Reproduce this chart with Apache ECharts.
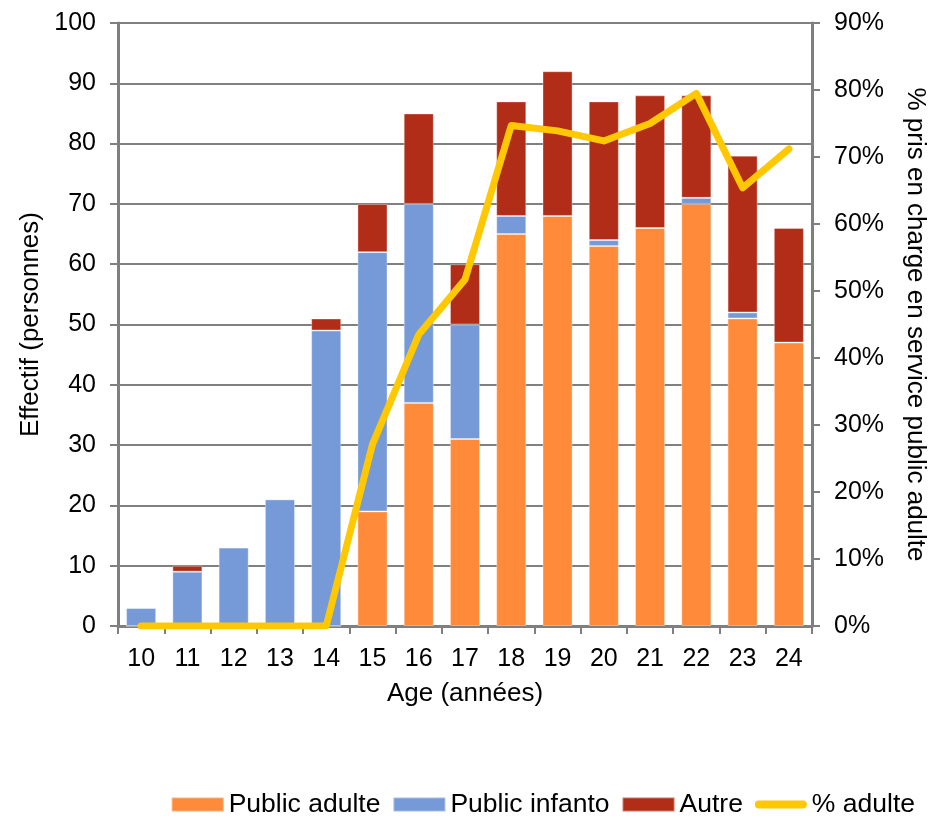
<!DOCTYPE html>
<html><head><meta charset="utf-8">
<script src="https://cdn.jsdelivr.net/npm/echarts@6/dist/echarts.min.js"></script>
<style>html,body{margin:0;padding:0;background:#fff}#c{width:930px;height:816px}</style>
</head><body><div id="c"></div>
<script>
const categories = ['10','11','12','13','14','15','16','17','18','19','20','21','22','23','24'];
const publicAdulte = [0,0,0,0,0,19,37,31,65,68,63,66,70,51,47];
const publicInfanto = [3,9,13,21,49,43,33,19,3,0,1,0,1,1,0];
const autre = [0,1,0,0,2,8,15,10,19,24,23,22,17,26,19];
const pctAdulte = [0,0,0,0,0,27.1,43.5,51.7,74.7,73.9,72.4,75.0,79.5,65.4,71.2];
const leftTicks = [0,100,10];
const rightTicks = [0,90,10];

const font = 'Liberation Sans, Arial, sans-serif';
const axisColor = '#7f7f7f';
const chart = echarts.init(document.getElementById('c'));
chart.setOption({
  animation:false,
  textStyle:{fontFamily:font},
  grid:{left:118,right:118,top:23,bottom:190,containLabel:false,outerBoundsMode:'none'},
  legend:{
    bottom:-7,right:10,itemWidth:52,itemHeight:14,itemGap:12,
    textStyle:{fontSize:26.5,color:'#000',fontFamily:font},
    data:[{name:'Public adulte',icon:'rect'},{name:'Public infanto',icon:'rect'},{name:'Autre',icon:'rect'},
      {name:'% adulte',icon:'path://M4,0 L48,0 A4,4 0 0 1 48,8 L4,8 A4,4 0 0 1 4,0 Z'}]
  },
  xAxis:{
    type:'category',data:categories,
    name:'Age (années)',nameLocation:'middle',nameGap:55,
    nameTextStyle:{fontSize:26,color:'#000'},
    axisLine:{lineStyle:{color:axisColor,width:3}},
    axisTick:{show:true,length:8,lineStyle:{color:axisColor,width:2},alignWithLabel:false},
    axisLabel:{fontSize:25,color:'#000',margin:21}
  },
  yAxis:[{
    type:'value',min:leftTicks[0],max:leftTicks[1],interval:leftTicks[2],
    name:'Effectif (personnes)',nameLocation:'middle',nameGap:62,
    nameTextStyle:{fontSize:26,color:'#000'},
    axisLine:{show:true,lineStyle:{color:axisColor,width:3}},
    axisTick:{show:true,length:8,lineStyle:{color:axisColor,width:2}},
    axisLabel:{fontSize:25,color:'#000',margin:22},
    splitLine:{lineStyle:{color:'#808080',width:2}}
  },{
    type:'value',min:rightTicks[0],max:rightTicks[1],interval:rightTicks[2],
    name:'% pris en charge en service public adulte',nameLocation:'middle',nameGap:90,nameRotate:-90,
    nameTextStyle:{fontSize:26,color:'#000'},
    axisLine:{show:true,lineStyle:{color:axisColor,width:3}},
    axisTick:{show:true,length:8,lineStyle:{color:axisColor,width:2}},
    axisLabel:{fontSize:25,color:'#000',margin:22,formatter:'{value}%'},
    splitLine:{show:false}
  }],
  series:[
    {name:'Public adulte',type:'bar',stack:'s',data:publicAdulte,barWidth:'65%',
     itemStyle:{color:'#FF8A3A',borderColor:'rgba(255,255,255,0.35)',borderWidth:1}},
    {name:'Public infanto',type:'bar',stack:'s',data:publicInfanto,
     itemStyle:{color:'#769AD7',borderColor:'rgba(255,255,255,0.35)',borderWidth:1}},
    {name:'Autre',type:'bar',stack:'s',data:autre,
     itemStyle:{color:'#B22D17',borderColor:'rgba(255,255,255,0.35)',borderWidth:1}},
    {name:'% adulte',type:'line',yAxisIndex:1,data:pctAdulte,symbol:'none',
     lineStyle:{color:'#FFC800',width:7,cap:'round',join:'round'},itemStyle:{color:'#FFC800'}}
  ]
});
</script></body></html>
